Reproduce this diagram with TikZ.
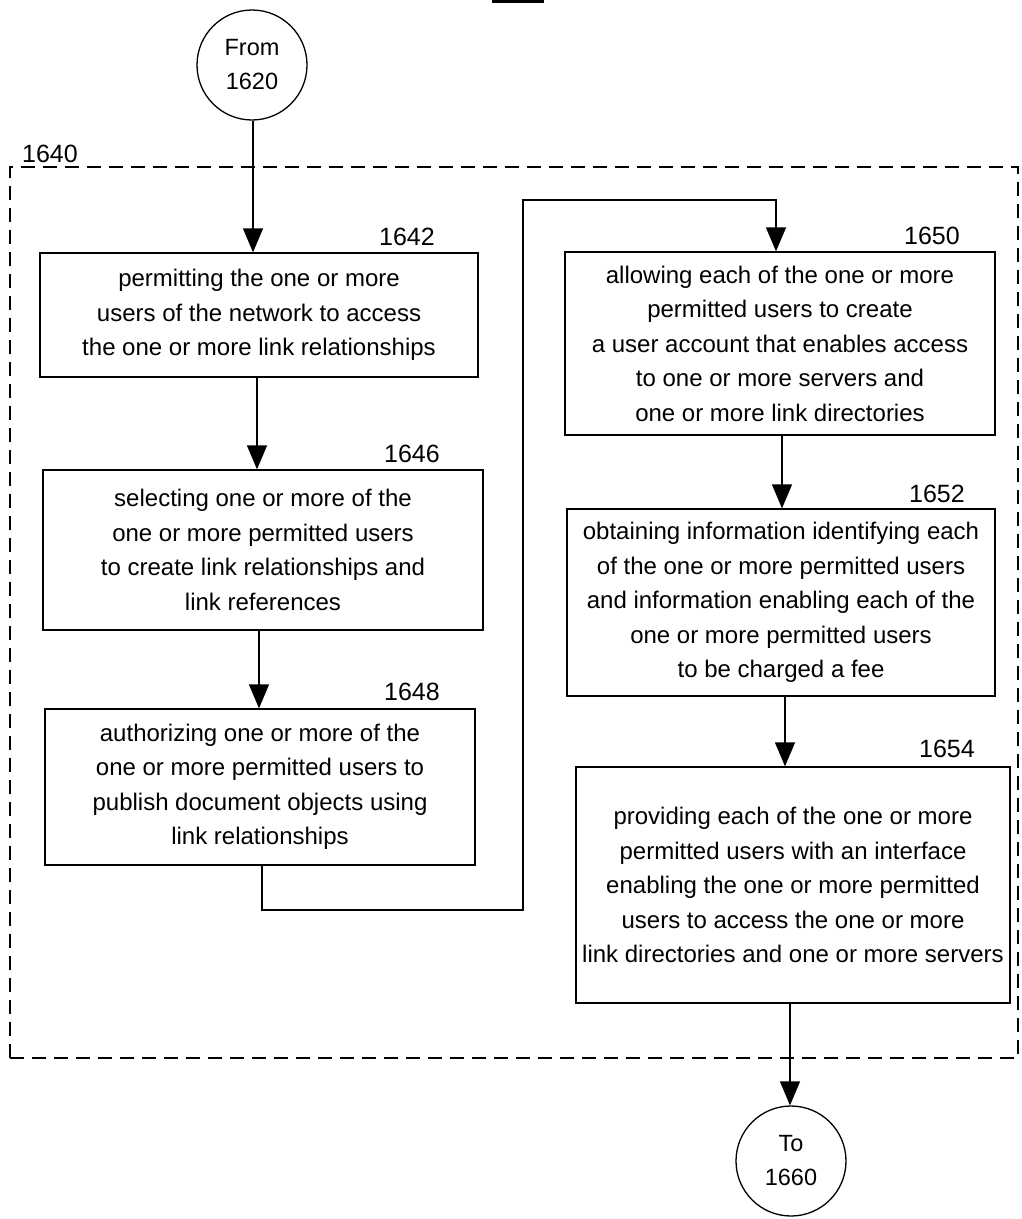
\documentclass[tikz,border=0pt]{standalone}
\usepackage{fontspec}
\setmainfont{Liberation Sans}
\usetikzlibrary{arrows.meta}
\begin{document}
\begin{tikzpicture}[x=1pt,y=-1pt,
 box/.style={draw, line width=1.3pt, inner sep=0pt, align=center, font=\fontsize{24}{34.5}\selectfont},
 circ/.style={draw, circle, line width=1.3pt, minimum size=110pt, inner sep=0pt, align=center, font=\fontsize{23.5}{34}\selectfont},
 lbl/.style={font=\fontsize{25}{30}\selectfont, anchor=base east, inner sep=0pt},
 arr/.style={line width=1.3pt, -{Triangle[length=24pt,width=20pt]}},
 frame/.style={draw, line width=1.2pt, dash pattern=on 14pt off 8pt, inner sep=0pt}]
\useasboundingbox (0,0) rectangle (1021,1219);
\fill[white] (0,0) rectangle (1021,1219);
\draw[line width=3pt] (492,1.5) -- (544,1.5);

\node[frame, minimum width=1008pt, minimum height=891pt] (g1640) at (514,612.5) {};
\node[lbl, anchor=base west] (l1640) at (22,162) {1640};

\node[circ] (from) at (252,65) {From\\1620};
\node[circ] (to) at (791,1161) {To\\1660};

\node[box, minimum width=438pt, minimum height=124pt] (b1642) at (259,315)
 {permitting the one or more\\users of the network to access\\the one or more link relationships};
\node[box, minimum width=440pt, minimum height=160pt] (b1646) at (263,550)
 {selecting one or more of the\\one or more permitted users\\to create link relationships and\\link references};
\node[box, minimum width=430pt, minimum height=156pt] (b1648) at (260,787)
 {authorizing one or more of the\\one or more permitted users to\\publish document objects using\\link relationships};
\node[box, minimum width=430pt, minimum height=183pt] (b1650) at (780,343.5)
 {allowing each of the one or more\\permitted users to create\\a user account that enables access\\to one or more servers and\\one or more link directories};
\node[box, minimum width=428pt, minimum height=187pt] (b1652) at (781,602.5)
 {obtaining information identifying each\\of the one or more permitted users\\and information enabling each of the\\one or more permitted users\\to be charged a fee};
\node[box, minimum width=434pt, minimum height=236pt, text depth=-12pt] (b1654) at (793,885)
 {providing each of the one or more\\permitted users with an interface\\enabling the one or more permitted\\users to access the one or more\\link directories and one or more servers};

\node[lbl] (l1642) at (435,245) {1642};
\node[lbl] (l1646) at (440,462) {1646};
\node[lbl] (l1648) at (440,700) {1648};
\node[lbl] (l1650) at (960,244) {1650};
\node[lbl] (l1652) at (965,502) {1652};
\node[lbl] (l1654) at (975,757) {1654};

\coordinate (xa) at (253,0);
\coordinate (xb) at (257,0);
\coordinate (xc) at (259,0);
\coordinate (xd) at (262,0);
\coordinate (xe) at (776,0);
\coordinate (xf) at (782,0);
\coordinate (xg) at (785,0);
\coordinate (xh) at (790,0);
\coordinate (c1) at (262,910);
\coordinate (c2) at (523,910);
\coordinate (c3) at (523,200);
\coordinate (c4) at (776,200);

\draw[arr] (from.south -| xa) -- (b1642.north -| xa);
\draw[arr] (b1642.south -| xb) -- (b1646.north -| xb);
\draw[arr] (b1646.south -| xc) -- (b1648.north -| xc);
\draw[arr] (b1648.south -| xd) -- (c1) -- (c2) -- (c3) -- (c4) -- (b1650.north -| xe);
\draw[arr] (b1650.south -| xf) -- (b1652.north -| xf);
\draw[arr] (b1652.south -| xg) -- (b1654.north -| xg);
\draw[arr] (b1654.south -| xh) -- (to.north -| xh);
\end{tikzpicture}
\end{document}
